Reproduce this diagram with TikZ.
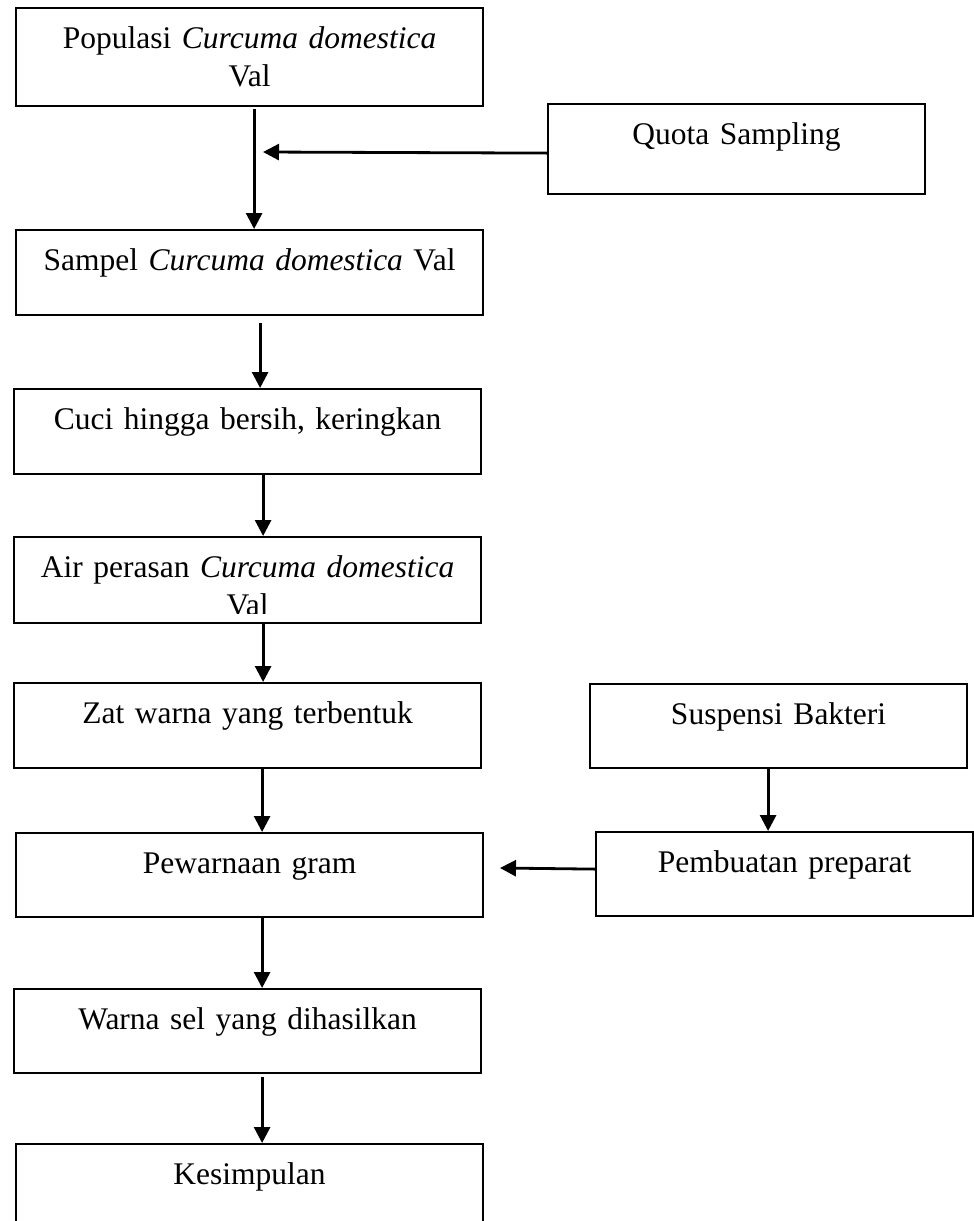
\documentclass[tikz,border=0pt]{standalone}
\usepackage{fontspec}
\setmainfont{Liberation Serif}
\usetikzlibrary{arrows.meta}
\begin{document}
\begin{tikzpicture}[x=1pt,y=-1pt,
  boxnode/.style={draw, line width=2.2pt, rectangle, inner sep=0pt, anchor=north west,
    text width=#1, align=center, font=\fontsize{31.5}{38}\selectfont},
  arr/.style={line width=2.8pt, -{Triangle[length=16pt,width=16pt]}}]
\useasboundingbox (0,0) rectangle (974,1221);
\clip (0,0) rectangle (974,1221);
\node[boxnode=467pt, minimum width=467pt, text height=40pt, text depth=58pt] (b1) at (15,7)
  {Populasi \textit{Curcuma domestica}\\ Val};
\node[boxnode=467pt, minimum width=467pt, text height=40pt, text depth=45pt] (b2) at (15,229)
  {Sampel \textit{Curcuma domestica} Val};
\node[boxnode=377pt, minimum width=377pt, text height=40pt, text depth=50pt] (q) at (547,103)
  {Quota Sampling};
\node[boxnode=467pt, minimum width=467pt, text height=40pt, text depth=45pt] (b3) at (13,388)
  {Cuci hingga bersih, keringkan};
\node[boxnode=467pt, minimum width=467pt, text height=40pt, text depth=46pt] (b4) at (13,536) {};
\begin{scope}
\clip (b4.north west) rectangle ([yshift=11pt]b4.south east);
\node[boxnode=467pt, draw=none, text height=40pt, text depth=46pt] (b4t) at (13,536)
  {Air perasan \textit{Curcuma domestica}\\ Val};
\end{scope}
\node[boxnode=467pt, minimum width=467pt, text height=40pt, text depth=45pt] (b5) at (13,682)
  {Zat warna yang terbentuk};
\node[boxnode=377pt, minimum width=377pt, text height=40pt, text depth=44pt] (s) at (589,683)
  {Suspensi Bakteri};
\node[boxnode=467pt, minimum width=467pt, text height=40pt, text depth=44pt] (b6) at (15,832)
  {Pewarnaan gram};
\node[boxnode=377pt, minimum width=377pt, text height=40pt, text depth=44pt] (p) at (595,831)
  {Pembuatan preparat};
\node[boxnode=467pt, minimum width=467pt, text height=40pt, text depth=44pt] (b7) at (13,988)
  {Warna sel yang dihasilkan};
\node[boxnode=467pt, minimum width=467pt, text height=40pt, text depth=45pt] (b8) at (15,1143)
  {Kesimpulan};
\coordinate (qtip) at (263,152);
\coordinate (ptip) at (500,868);
\draw[arr] ([xshift=4.5pt,yshift=-2pt]b1.south) -- ([xshift=4.5pt]b2.north);
\draw[arr] ([xshift=10.5pt,yshift=-7pt]b2.south) -- ([xshift=12.5pt]b3.north);
\draw[arr] ([xshift=15.5pt]b3.south) -- ([xshift=15.5pt]b4.north);
\draw[arr] ([xshift=15.5pt]b4.south) -- ([xshift=15.5pt]b5.north);
\draw[arr] ([xshift=14.5pt]b5.south) -- ([xshift=12.5pt]b6.north);
\draw[arr] ([xshift=12.5pt]b6.south) -- ([xshift=14.5pt]b7.north);
\draw[arr] ([xshift=14.5pt,yshift=-3pt]b7.south) -- ([xshift=12.5pt]b8.north);
\draw[arr] ([yshift=-4pt]q.west) -- (qtip);
\draw[arr] ([xshift=-10.5pt]s.south) -- ([xshift=-16.5pt]p.north);
\draw[arr] ([yshift=5pt]p.west) -- (ptip);
\end{tikzpicture}
\end{document}
